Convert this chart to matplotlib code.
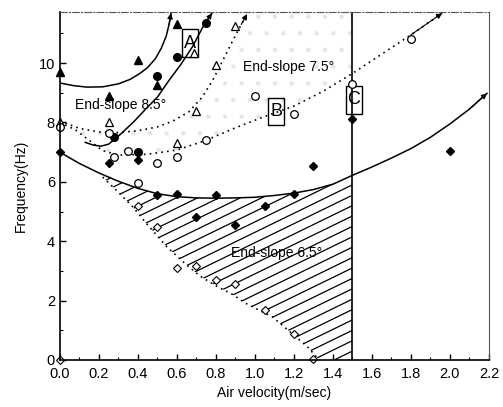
import matplotlib
matplotlib.use("Agg")
import matplotlib.pyplot as plt
import numpy as np
from matplotlib.patches import Polygon, Rectangle
from matplotlib.ticker import MultipleLocator

plt.rcParams["font.family"] = ["Liberation Sans", "DejaVu Sans"]
plt.rcParams["hatch.linewidth"] = 0.8

# --------------------------------------------------
# Measured points
# --------------------------------------------------

tri_filled_x = [0.0, 0.25, 0.4, 0.5, 0.6]
tri_filled_y = [9.7, 8.9, 10.1, 9.25, 11.3]

circ_filled_x = [0.28, 0.4, 0.5, 0.6, 0.75]
circ_filled_y = [7.5, 7.0, 9.55, 10.2, 11.35]

tri_open_x = [0.0, 0.25, 0.6, 0.69, 0.7, 0.8, 0.9]
tri_open_y = [8.0, 8.0, 7.3, 10.35, 8.4, 9.95, 11.25]

circ_open_x = [0.0, 0.25, 0.28, 0.35, 0.4, 0.5, 0.6, 0.75, 1.0, 1.2, 1.5, 1.8]
circ_open_y = [7.85, 7.65, 6.85, 7.05, 5.95, 6.65, 6.85, 7.4, 8.9, 8.3, 9.3, 10.8]

dia_filled_x = [0.0, 0.25, 0.4, 0.5, 0.6, 0.7, 0.8, 0.9, 1.05, 1.2, 1.3, 1.5, 2.0]
dia_filled_y = [7.0, 6.65, 6.75, 5.55, 5.6, 4.8, 5.55, 4.55, 5.2, 5.6, 6.55, 8.1, 7.05]

dia_open_x = [0.0, 0.4, 0.5, 0.6, 0.7, 0.8, 0.9, 1.05, 1.2, 1.3]
dia_open_y = [0.0, 5.2, 4.47, 3.1, 3.17, 2.69, 2.55, 1.7, 0.87, 0.05]

# --------------------------------------------------
# Boundary curves
# --------------------------------------------------

u_curve_x = [0.0, 0.07, 0.14, 0.22, 0.3, 0.36, 0.41, 0.45, 0.49, 0.52, 0.545, 0.56, 0.57]
u_curve_y = [9.33, 9.24, 9.19, 9.2, 9.3, 9.45, 9.65, 9.85, 10.15, 10.5, 10.9, 11.3, 11.68]

a_curve_x = [0.13, 0.17, 0.21, 0.25, 0.29, 0.33, 0.38, 0.44, 0.5, 0.56, 0.62, 0.68, 0.74, 0.78]
a_curve_y = [7.33, 7.24, 7.2, 7.27, 7.48, 7.72, 8.03, 8.45, 8.85, 9.42, 9.95, 10.55, 11.3, 11.68]

b_upper_x = [0.0, 0.1, 0.2, 0.3, 0.4, 0.5, 0.58, 0.66, 0.73, 0.79, 0.84, 0.89, 0.93, 0.96]
b_upper_y = [8.05, 7.8, 7.68, 7.66, 7.72, 7.85, 8.05, 8.35, 8.85, 9.5, 10.15, 10.8, 11.3, 11.65]

b_lower_x = [0.0, 0.08, 0.15, 0.22, 0.3, 0.45, 0.6, 0.75, 0.9, 1.05, 1.2, 1.35, 1.5, 1.65, 1.8, 1.96]
b_lower_y = [8.0, 7.75, 7.4, 7.05, 6.9, 6.93, 7.07, 7.4, 7.82, 8.2, 8.55, 9.05, 9.65, 10.3, 10.95, 11.68]

c_curve_x = [0.0, 0.1, 0.2, 0.3, 0.4, 0.5, 0.6, 0.7, 0.8, 0.9, 1.0, 1.1, 1.2, 1.3, 1.4, 1.5,
             1.6, 1.7, 1.8, 1.9, 2.0, 2.1, 2.19]
c_curve_y = [7.0, 6.62, 6.3, 6.02, 5.78, 5.6, 5.5, 5.46, 5.45, 5.46, 5.48, 5.54, 5.62, 5.74, 5.92, 6.22,
             6.5, 6.8, 7.12, 7.5, 7.95, 8.45, 8.98]

d_curve_x = [0.22, 0.3, 0.375, 0.45, 0.55, 0.65, 0.72, 0.8, 0.89, 0.95, 1.09, 1.18, 1.27, 1.33]
d_curve_y = [6.16, 5.65, 5.15, 4.55, 3.8, 3.2, 2.82, 2.5, 2.19, 1.92, 1.45, 0.95, 0.44, 0.0]

boundary_x = 1.5

region_labels = ["A", "B", "C"]
region_x = [0.667, 1.11, 1.508]
region_y = [10.67, 8.37, 8.77]

# --------------------------------------------------
# Figure
# --------------------------------------------------

fig = plt.figure(figsize=(5.03, 4.07), dpi=100)
ax = fig.add_axes([0.119, 0.1155, 0.853, 0.855])

ax.set_xlim(0, 2.2)
ax.set_ylim(0, 11.72)

# faint stipple of region B
stip_x = b_upper_x + [boundary_x, boundary_x] + b_lower_x[:13][::-1]
stip_y = b_upper_y + [11.72, 9.65] + b_lower_y[:13][::-1]
stipple = Polygon(np.column_stack([stip_x, stip_y]), closed=True,
                  facecolor="none", edgecolor="#e6e6e6", hatch=".", lw=0)
ax.add_patch(stipple)

# hatched region (end-slope 6.5)
cx = np.array(c_curve_x)
cy = np.array(c_curve_y)
sel = (cx >= 0.22) & (cx <= boundary_x)
top_x = np.concatenate([[0.22], cx[sel]])
top_y = np.concatenate([[np.interp(0.22, cx, cy)], cy[sel]])
poly_x = list(top_x) + [boundary_x] + d_curve_x[::-1]
poly_y = list(top_y) + [0.0] + d_curve_y[::-1]
hatch_patch = Polygon(np.column_stack([poly_x, poly_y]), closed=True,
                      facecolor="none", edgecolor="none")
ax.add_patch(hatch_patch)

slope = 3.2
for c in np.arange(-8.0, 7.0, 0.35):
    hx = np.array([0.0, 2.2])
    ln, = ax.plot(hx, slope * hx + c, color="black", lw=0.9)
    ln.set_clip_path(hatch_patch)

# curves
ax.plot(u_curve_x, u_curve_y, color="black", lw=1.1)
ax.plot(a_curve_x, a_curve_y, color="black", lw=1.1)
ax.plot(c_curve_x, c_curve_y, color="black", lw=1.1)
ax.plot(b_upper_x, b_upper_y, color="black", lw=1.2, ls=(0, (1, 2.5)))
ax.plot(b_lower_x, b_lower_y, color="black", lw=1.2, ls=(0, (1, 2.5)))
ax.plot(d_curve_x, d_curve_y, color="black", lw=1.2, ls=(0, (1, 2.5)))
ax.axvline(boundary_x, color="black", lw=1.2)

# arrow heads at the curve ends
for xs, ys in [(u_curve_x, u_curve_y), (a_curve_x, a_curve_y), (b_upper_x, b_upper_y),
               (b_lower_x, b_lower_y), (c_curve_x, c_curve_y)]:
    ax.annotate("", xy=(xs[-1], ys[-1]), xytext=(xs[-2], ys[-2]),
                arrowprops=dict(arrowstyle="-|>", color="black", lw=0.8,
                                mutation_scale=8, shrinkA=0, shrinkB=0))

# markers
ax.plot(tri_filled_x, tri_filled_y, "^", color="black", ms=5.5, ls="none", clip_on=False)
ax.plot(circ_filled_x, circ_filled_y, "o", color="black", ms=5.5, ls="none", clip_on=False)
ax.plot(tri_open_x, tri_open_y, "^", mfc="white", mec="black", mew=0.9, ms=5.5, ls="none",
        clip_on=False)
ax.plot(circ_open_x, circ_open_y, "o", mfc="white", mec="black", mew=0.9, ms=5.5, ls="none",
        clip_on=False)
ax.plot(dia_filled_x, dia_filled_y, "D", color="black", ms=3.8, ls="none", clip_on=False)
ax.plot(dia_open_x, dia_open_y, "D", mfc="white", mec="black", mew=0.8, ms=3.8, ls="none",
        clip_on=False)

# labels
ax.text(0.077, 8.59, "End-slope 8.5\u00b0", fontsize=10, va="center", ha="left")
ax.text(0.94, 9.87, "End-slope 7.5\u00b0", fontsize=10, va="center", ha="left")
ax.text(0.88, 3.6, "End-slope 6.5\u00b0", fontsize=10, va="center", ha="left")

box_w = 0.082
box_h = 0.94
for lab, bx, by in zip(region_labels, region_x, region_y):
    ax.text(bx, by, lab, fontsize=13, ha="center", va="center")
    ax.add_patch(Rectangle((bx - box_w / 2, by - box_h / 2), box_w, box_h,
                           facecolor="none", edgecolor="black", lw=1))

# axes styling
ax.xaxis.set_minor_locator(MultipleLocator(0.1))
ax.yaxis.set_major_locator(MultipleLocator(2))
ax.yaxis.set_minor_locator(MultipleLocator(1))
ax.set_xticks(np.arange(0, 2.21, 0.2))
ax.set_xticklabels([f"{v:.1f}" for v in np.arange(0, 2.21, 0.2)])
ax.tick_params(which="both", direction="in", top=False, right=False, labelsize=10.5)
ax.tick_params(axis="x", pad=5)
ax.tick_params(which="major", length=4, width=1)
ax.tick_params(which="minor", length=2, width=0.8)

ax.spines["top"].set_linestyle((0, (6, 2, 1, 2)))
ax.spines["top"].set_color("#555555")
ax.spines["right"].set_color("#555555")
ax.spines["right"].set_linewidth(0.8)
ax.spines["left"].set_linewidth(1.2)
ax.spines["bottom"].set_linewidth(1.2)

ax.set_xlabel("Air velocity(m/sec)", fontsize=10, labelpad=4)
ax.set_ylabel("Frequency(Hz)", fontsize=10, labelpad=8)

fig.savefig("out.png", dpi=100)
